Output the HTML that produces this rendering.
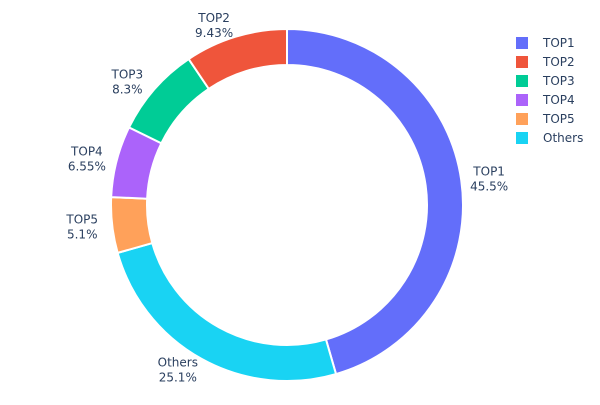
<!DOCTYPE html>
<html><head><meta charset="utf-8"><style>
body{margin:0;background:#fff}
svg{font-family:"DejaVu Sans","Liberation Sans",sans-serif}
</style></head><body>
<svg width="600" height="400">
<g id="slices"></g>
<g id="labels"></g>
<g id="legend"></g>
</svg>
<script>
const categories=["TOP1","Others","TOP5","TOP4","TOP3","TOP2"];
const values=[45.5,25.1,5.1,6.55,8.3,9.43];
const valueLabels=["45.5%","25.1%","5.1%","6.55%","8.3%","9.43%"];
const colors=["#636efa","#19d3f3","#FFA15A","#ab63fa","#00cc96","#EF553B"];
const legendOrder=["TOP1","TOP2","TOP3","TOP4","TOP5","Others"];
const NS="http://www.w3.org/2000/svg";
const cx=287,cy=205,R=176,r=140;
const total=values.reduce((a,b)=>a+b,0);
const sl=document.getElementById('slices'),lb=document.getElementById('labels'),lg=document.getElementById('legend');
function pt(rad,a){return [cx+rad*Math.sin(a),cy-rad*Math.cos(a)];}
let cum=0;
values.forEach((v,i)=>{
  const a0=cum/total*2*Math.PI; cum+=v; const a1=cum/total*2*Math.PI;
  const large=(a1-a0)>Math.PI?1:0;
  const [x0,y0]=pt(R,a0),[x1,y1]=pt(R,a1),[x2,y2]=pt(r,a1),[x3,y3]=pt(r,a0);
  const p=document.createElementNS(NS,'path');
  p.setAttribute('d',`M${x0},${y0}A${R},${R} 0 ${large} 1 ${x1},${y1}L${x2},${y2}A${r},${r} 0 ${large} 0 ${x3},${y3}Z`);
  p.setAttribute('fill',colors[i]);p.setAttribute('stroke','#fff');p.setAttribute('stroke-width','2');
  
  
  sl.appendChild(p);
  const am=(a0+a1)/2; const s=Math.sin(am);
  let [lx,ly]=pt(R+12,am); lx+= s>=0?16:-18;
  const t=document.createElementNS(NS,'text');
  t.setAttribute('x',lx);t.setAttribute('text-anchor','middle');t.setAttribute('font-size','12');t.setAttribute('fill','#2a3f5f');
  
  
  const t1=document.createElementNS(NS,'tspan');t1.setAttribute('x',lx);t1.setAttribute('y',ly-3);t1.textContent=categories[i];
  const t2=document.createElementNS(NS,'tspan');t2.setAttribute('x',lx);t2.setAttribute('y',ly+12);t2.textContent=valueLabels[i];
  t.appendChild(t1);t.appendChild(t2);lb.appendChild(t);
});
legendOrder.forEach((c,j)=>{
  const i=categories.indexOf(c); const y=43+j*19;
  const g=document.createElementNS(NS,'g');
  
  
  const rc=document.createElementNS(NS,'rect');
  rc.setAttribute('x',516);rc.setAttribute('y',y-6);rc.setAttribute('width',12);rc.setAttribute('height',12);rc.setAttribute('fill',colors[i]);
  const tx=document.createElementNS(NS,'text');
  tx.setAttribute('x',543);tx.setAttribute('y',y+4);tx.setAttribute('font-size','12');tx.setAttribute('fill','#2a3f5f');tx.textContent=c;
  g.appendChild(rc);g.appendChild(tx);lg.appendChild(g);
});
</script>
</body></html>
